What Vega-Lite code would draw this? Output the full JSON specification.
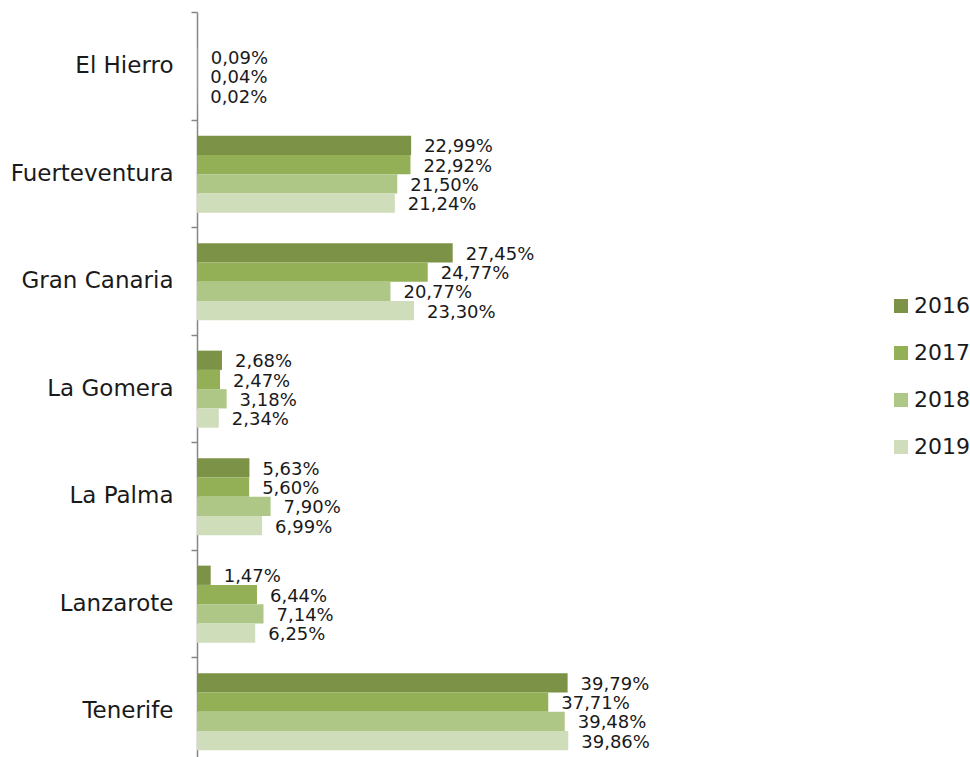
{
  "$schema": "https://vega.github.io/schema/vega-lite/v6.json",
  "width": 652,
  "height": 745,
  "autosize": {"type": "none"},
  "padding": {"left": 197, "top": 12, "right": 121, "bottom": 0},
  "config": {
    "view": {"stroke": null},
    "font": "DejaVu Sans",
    "locale": {"number": {"decimal": ",", "thousands": ".", "grouping": [3], "currency": ["", " €"]}}
  },
  "data": {
    "values": [
      {"isla": "El Hierro", "year": "2017", "share": 0.0009},
      {"isla": "El Hierro", "year": "2018", "share": 0.0004},
      {"isla": "El Hierro", "year": "2019", "share": 0.0002},
      {"isla": "Fuerteventura", "year": "2016", "share": 0.2299},
      {"isla": "Fuerteventura", "year": "2017", "share": 0.2292},
      {"isla": "Fuerteventura", "year": "2018", "share": 0.2150},
      {"isla": "Fuerteventura", "year": "2019", "share": 0.2124},
      {"isla": "Gran Canaria", "year": "2016", "share": 0.2745},
      {"isla": "Gran Canaria", "year": "2017", "share": 0.2477},
      {"isla": "Gran Canaria", "year": "2018", "share": 0.2077},
      {"isla": "Gran Canaria", "year": "2019", "share": 0.2330},
      {"isla": "La Gomera", "year": "2016", "share": 0.0268},
      {"isla": "La Gomera", "year": "2017", "share": 0.0247},
      {"isla": "La Gomera", "year": "2018", "share": 0.0318},
      {"isla": "La Gomera", "year": "2019", "share": 0.0234},
      {"isla": "La Palma", "year": "2016", "share": 0.0563},
      {"isla": "La Palma", "year": "2017", "share": 0.0560},
      {"isla": "La Palma", "year": "2018", "share": 0.0790},
      {"isla": "La Palma", "year": "2019", "share": 0.0699},
      {"isla": "Lanzarote", "year": "2016", "share": 0.0147},
      {"isla": "Lanzarote", "year": "2017", "share": 0.0644},
      {"isla": "Lanzarote", "year": "2018", "share": 0.0714},
      {"isla": "Lanzarote", "year": "2019", "share": 0.0625},
      {"isla": "Tenerife", "year": "2016", "share": 0.3979},
      {"isla": "Tenerife", "year": "2017", "share": 0.3771},
      {"isla": "Tenerife", "year": "2018", "share": 0.3948},
      {"isla": "Tenerife", "year": "2019", "share": 0.3986}
    ]
  },
  "encoding": {
    "y": {
      "field": "isla",
      "type": "nominal",
      "sort": ["El Hierro", "Fuerteventura", "Gran Canaria", "La Gomera", "La Palma", "Lanzarote", "Tenerife"],
      "scale": {"range": [0, 752.5], "paddingInner": 0, "paddingOuter": 0},
      "axis": {
        "title": null,
        "domainColor": "#868686",
        "domainWidth": 1.5,
        "tickColor": "#868686",
        "tickWidth": 1.5,
        "tickSize": 6,
        "tickBand": "extent",
        "labelFontSize": 23,
        "labelPadding": 18,
        "labelColor": "#1a1a1a"
      }
    },
    "yOffset": {
      "field": "year",
      "type": "nominal",
      "scale": {"paddingInner": 0, "paddingOuter": 0.79, "align": 0.53}
    },
    "x": {
      "field": "share",
      "type": "quantitative",
      "scale": {"domain": [0, 0.7]},
      "axis": null
    }
  },
  "layer": [
    {
      "mark": {"type": "bar"},
      "encoding": {
        "color": {
          "field": "year",
          "type": "nominal",
          "scale": {"domain": ["2016", "2017", "2018", "2019"], "range": ["#7B9247", "#93B057", "#AEC686", "#CFDDBA"]},
          "legend": {
            "title": null,
            "orient": "none",
            "legendX": 693,
            "legendY": 283,
            "symbolType": "square",
            "symbolSize": 196,
            "symbolStrokeWidth": 0,
            "labelFontSize": 22,
            "labelColor": "#1a1a1a",
            "labelOffset": 2,
            "rowPadding": 25
          }
        }
      }
    },
    {
      "mark": {"type": "text", "align": "left", "baseline": "middle", "dx": 13, "dy": 2, "fontSize": 18, "color": "#1a1a1a"},
      "encoding": {"text": {"field": "share", "type": "quantitative", "format": ".2%"}}
    }
  ]
}
